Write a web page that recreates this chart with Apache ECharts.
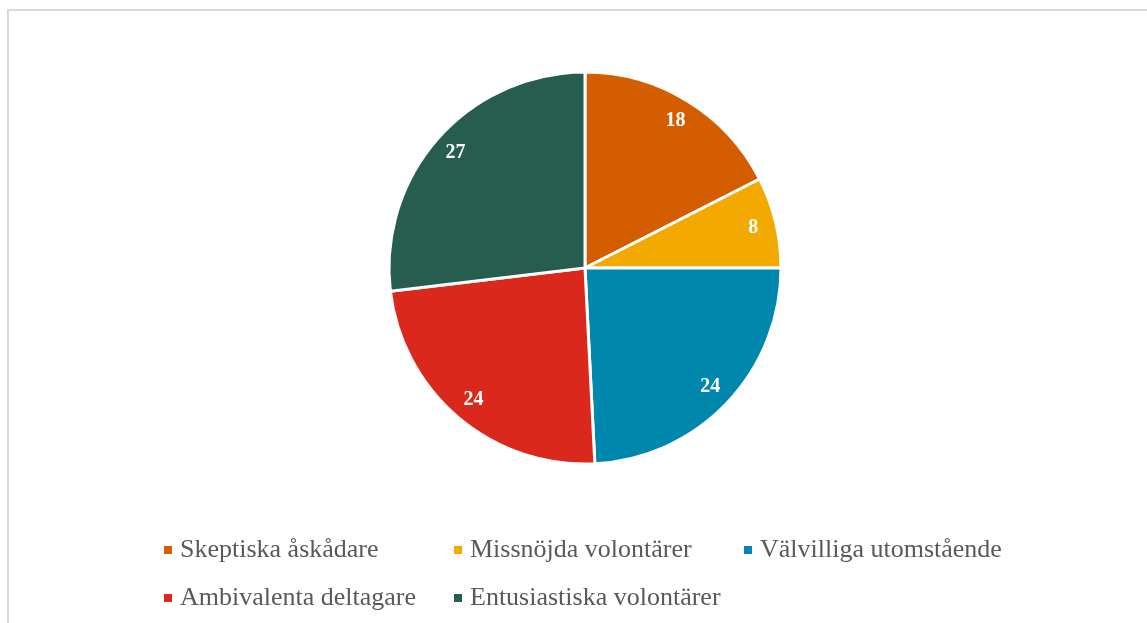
<!DOCTYPE html>
<html><head><meta charset="utf-8">
<script src="https://cdn.jsdelivr.net/npm/echarts@6/dist/echarts.min.js"></script>
<style>html,body{margin:0;padding:0;background:#fff}#c{width:1147px;height:623px}</style>
</head><body><div id="c"></div>
<script>
const categories = ['Skeptiska åskådare','Missnöjda volontärer','Välvilliga utomstående','Ambivalenta deltagare','Entusiastiska volontärer'];
// estimated shares (labels show rounded values 18, 8, 24, 24, 27)
const values = [17.5, 7.5, 24.2, 23.9, 26.9];
const colors = ['#D45D00','#F2A900','#0087AD','#DA291C','#275D4E'];

const data = categories.map((n,i)=>({name:n, value:values[i], itemStyle:{color:colors[i]}}));
const labelData = categories.map((n,i)=>({name:n, value:values[i]}));
const font = '"Liberation Serif", "DejaVu Serif", serif';
const legendBase = {
  orient:'vertical', itemWidth:10, itemHeight:10, icon:'rect', itemGap:22,
  textStyle:{fontFamily:font, fontSize:26, lineHeight:26, color:'#595959', padding:[0,0,0,2]},
  selectedMode:false
};
const chart = echarts.init(document.getElementById('c'));
chart.setOption({
  animation:false,
  graphic:[{type:'rect', shape:{x:8,y:10,width:1180,height:700}, style:{fill:'none', stroke:'#d9d9d9', lineWidth:2}, silent:true}],
  legend:[
    Object.assign({}, legendBase, {left:157, top:532, data:[categories[0], categories[3]]}),
    Object.assign({}, legendBase, {left:447, top:532, data:[categories[1], categories[4]]}),
    Object.assign({}, legendBase, {left:737, top:532, data:[categories[2]]})
  ],
  series:[
    {type:'pie', center:[585,268], radius:[0,196], startAngle:90, clockwise:true,
     itemStyle:{borderColor:'#fff', borderWidth:3}, label:{show:false}, labelLine:{show:false},
     data:data, silent:true},
    {type:'pie', center:[585,268], radius:[144,196], startAngle:90, clockwise:true,
     itemStyle:{color:'rgba(0,0,0,0)', borderWidth:0},
     label:{show:true, position:'inside', color:'#fff', fontFamily:font, fontWeight:'bold', fontSize:20,
            formatter:(p)=>String(Math.round(p.value))},
     labelLine:{show:false}, data:labelData, silent:true, legendHoverLink:false}
  ]
});
</script></body></html>
